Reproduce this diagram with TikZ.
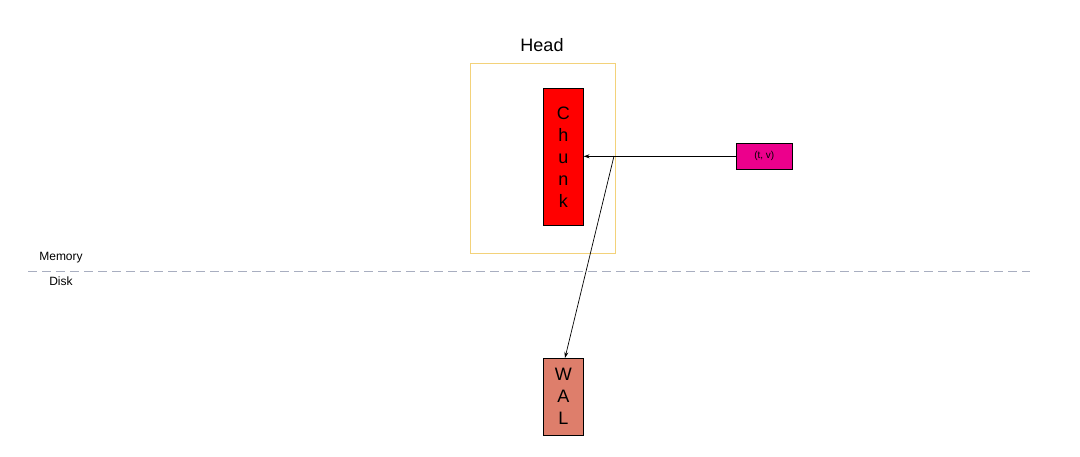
\documentclass[tikz,border=0pt]{standalone}
\usepackage{fontspec}
\setmainfont{Liberation Sans}
\usetikzlibrary{arrows.meta}
\definecolor{headc}{HTML}{F3D27A}
\definecolor{walc}{HTML}{DE7E6B}
\definecolor{dashc}{HTML}{A8AEC0}
\begin{document}
\begin{tikzpicture}[x=1pt,y={(0,-1pt)},
  box/.style={draw=black,line width=0.6pt,minimum width=40pt,inner sep=0pt},
  arr/.style={-{Stealth[length=6pt,width=4pt]},line width=0.7pt}]
\useasboundingbox (0,0) rectangle (1080,456);
\node[draw=headc,line width=0.8pt,minimum width=145pt,minimum height=190pt,anchor=north west] (head) at (470,63) {};
\node[font=\fontsize{18}{18}\selectfont] (headlbl) at (542,45) {Head};
\node[box,fill=red,minimum height=137pt,anchor=north west,align=center,font=\fontsize{18}{22}\selectfont] (chunk) at (543,88) {C\\h\\u\\n\\k};
\node[box,fill=magenta,minimum width=56pt,minimum height=26pt,anchor=north west,font=\fontsize{10}{10}\selectfont] (tv) at (736,143) {(t, v)};
\node[box,fill=walc,minimum height=77pt,anchor=north west,align=center,font=\fontsize{18}{22}\selectfont] (wal) at (543,358) {W\\A\\L};
\coordinate (br) at (614,156);
\draw[arr] (tv.west) -- (chunk.east |- tv.west);
\draw[arr] (br) -- (565,358);
\draw[dashc,dash pattern=on 9pt off 5pt,line width=0.9pt] (28,271) -- (1030,271);
\node[font=\fontsize{12}{12}\selectfont] (mem) at (61,258) {Memory};
\node[font=\fontsize{12}{12}\selectfont] (disk) at (61,281) {Disk};
\end{tikzpicture}
\end{document}
